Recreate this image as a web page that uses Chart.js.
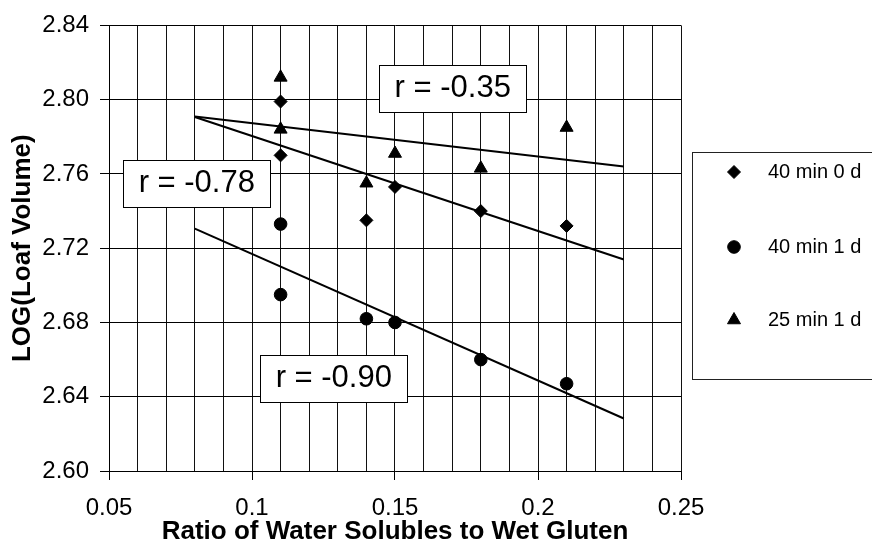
<!DOCTYPE html>
<html>
<head>
<meta charset="utf-8">
<script src="https://cdn.jsdelivr.net/npm/chart.js@4.4.0/dist/chart.umd.min.js"></script>
<style>
  html, body { margin: 0; padding: 0; background: #fff; }
  #wrap { width: 872px; height: 551px; position: relative; }
</style>
</head>
<body>
<div id="wrap"><canvas id="chart"></canvas></div>
<script>
// === DATA ===

const ratioValues = [0.11, 0.11, 0.14, 0.15, 0.18, 0.21];
const loaf40min0d = [2.799, 2.770, 2.735, 2.753, 2.740, 2.732];
const loaf40min1d = [2.733, 2.695, 2.682, 2.680, 2.660, 2.647];
const loaf25min1d = [2.812, 2.784, 2.755, 2.771, 2.763, 2.785];

const seriesNames = ["40 min 0 d", "40 min 1 d", "25 min 1 d"];
const xMajorTicks = [0.05, 0.1, 0.15, 0.2, 0.25];
const trendRange = [0.08, 0.23];
const rLabels = ["r = -0.35", "r = -0.78", "r = -0.90"];

const FONT = '"Liberation Sans", Arial, sans-serif';

// === TRENDLINES ===

function fitLine(xs, ys) {
  const n = xs.length;
  const mx = xs.reduce((s, v) => s + v, 0) / n;
  const my = ys.reduce((s, v) => s + v, 0) / n;
  let sxy = 0;
  let sxx = 0;
  for (let i = 0; i < n; i++) {
    sxy += (xs[i] - mx) * (ys[i] - my);
    sxx += (xs[i] - mx) * (xs[i] - mx);
  }
  const slope = sxy / sxx;
  return trendRange.map(x => ({ x: x, y: my + slope * (x - mx) }));
}

function toPoints(ys) {
  return ratioValues.map((x, i) => ({ x: x, y: ys[i] }));
}

function isMajor(value) {
  return xMajorTicks.some(t => Math.abs(t - value) < 1e-6);
}

// === ANNOTATIONS ===

// r boxes, anchored in data units (centre of the box)
const rBoxes = [
  { x: 0.1702, y: 2.8061 },
  { x: 0.0807, y: 2.7547 },
  { x: 0.1286, y: 2.6500 }
];

const rBoxPlugin = {
  id: "rBoxes",
  afterDatasetsDraw(chart) {
    const { ctx, scales } = chart;
    const w = 147;
    const h = 47;
    ctx.save();
    ctx.font = "31px " + FONT;
    ctx.textAlign = "center";
    ctx.textBaseline = "middle";
    rLabels.forEach((text, i) => {
      const cx = scales.x.getPixelForValue(rBoxes[i].x);
      const cy = scales.y.getPixelForValue(rBoxes[i].y);
      const left = Math.round(cx - w / 2) + 0.5;
      const top = Math.round(cy - h / 2) + 0.5;
      ctx.fillStyle = "#fff";
      ctx.fillRect(left, top, w, h);
      ctx.strokeStyle = "#000";
      ctx.lineWidth = 1;
      ctx.strokeRect(left, top, w, h);
      ctx.fillStyle = "#000";
      ctx.fillText(text, cx, cy);
    });
    ctx.restore();
  }
};

// === LEGEND ===

const legendPlugin = {
  id: "boxLegend",
  afterDraw(chart) {
    const ctx = chart.ctx;
    const left = chart.chartArea.right + 11;
    const top = 152;
    const bottom = 379;
    const rows = [172, 247, 320];

    ctx.save();
    ctx.strokeStyle = "#222";
    ctx.lineWidth = 1;
    ctx.strokeRect(left + 0.5, top + 0.5, 200, bottom - top);

    ctx.font = "20px " + FONT;
    ctx.textAlign = "left";
    ctx.textBaseline = "middle";
    seriesNames.forEach((name, i) => {
      const ds = chart.data.datasets[i];
      ctx.fillStyle = "#000";
      ctx.strokeStyle = "#000";
      Chart.helpers.drawPoint(ctx, {
        pointStyle: ds.pointStyle,
        radius: ds.pointRadius,
        rotation: 0,
        borderWidth: 1
      }, left + 42, rows[i]);
      ctx.fillStyle = "#000";
      ctx.fillText(name, left + 76, rows[i]);
    });
    ctx.restore();
  }
};

// === CHART ===

function pointSet(label, ys, style, radius) {
  return {
    label: label,
    data: toPoints(ys),
    pointStyle: style,
    pointRadius: radius,
    pointBackgroundColor: "#000",
    pointBorderColor: "#000",
    pointBorderWidth: 1,
    showLine: false
  };
}

function trendSet(ys) {
  return {
    label: "",
    data: fitLine(ratioValues, ys),
    showLine: true,
    borderColor: "#000",
    borderWidth: 2,
    pointRadius: 0,
    fill: false
  };
}

new Chart(document.getElementById("chart"), {
  type: "scatter",
  data: {
    datasets: [
      pointSet(seriesNames[0], loaf40min0d, "rectRot", 6.5),
      pointSet(seriesNames[1], loaf40min1d, "circle", 6.3),
      pointSet(seriesNames[2], loaf25min1d, "triangle", 7.5),
      trendSet(loaf25min1d),
      trendSet(loaf40min0d),
      trendSet(loaf40min1d)
    ]
  },
  options: {
    responsive: true,
    maintainAspectRatio: false,
    animation: false,
    events: [],
    layout: { padding: { top: 22, right: 191, left: 0, bottom: 0 } },
    plugins: {
      legend: { display: false },
      tooltip: { enabled: false }
    },
    scales: {
      x: {
        type: "linear",
        min: 0.05,
        max: 0.25,
        afterFit(scale) { scale.height = 80; },
        ticks: {
          stepSize: 0.01,
          autoSkip: false,
          maxRotation: 0,
          padding: 14,
          color: "#000",
          font: { family: FONT, size: 24 },
          callback: v => (isMajor(v) ? String(Math.round(v * 100) / 100) : "")
        },
        grid: {
          color: "#111",
          lineWidth: 1,
          tickLength: 9,
          tickColor: c => (c.tick && isMajor(c.tick.value) ? "#000" : "rgba(0,0,0,0)")
        },
        border: { color: "#000", width: 1 },
        title: {
          display: true,
          text: "Ratio of Water Solubles to Wet Gluten",
          color: "#000",
          font: { family: FONT, size: 26, weight: "bold" },
          padding: { top: 0, bottom: 4 }
        }
      },
      y: {
        min: 2.6,
        max: 2.84,
        afterFit(scale) { scale.width = 109; },
        ticks: {
          stepSize: 0.04,
          padding: 11,
          color: "#000",
          font: { family: FONT, size: 24 },
          callback: v => v.toFixed(2)
        },
        grid: { color: "#000", lineWidth: 1, tickLength: 9, tickColor: "#000" },
        border: { color: "#000", width: 1 },
        title: {
          display: true,
          text: "LOG(Loaf Volume)",
          color: "#000",
          font: { family: FONT, size: 26, weight: "bold" },
          padding: { top: 7, bottom: 0 }
        }
      }
    }
  },
  plugins: [rBoxPlugin, legendPlugin]
});
</script>
</body>
</html>
